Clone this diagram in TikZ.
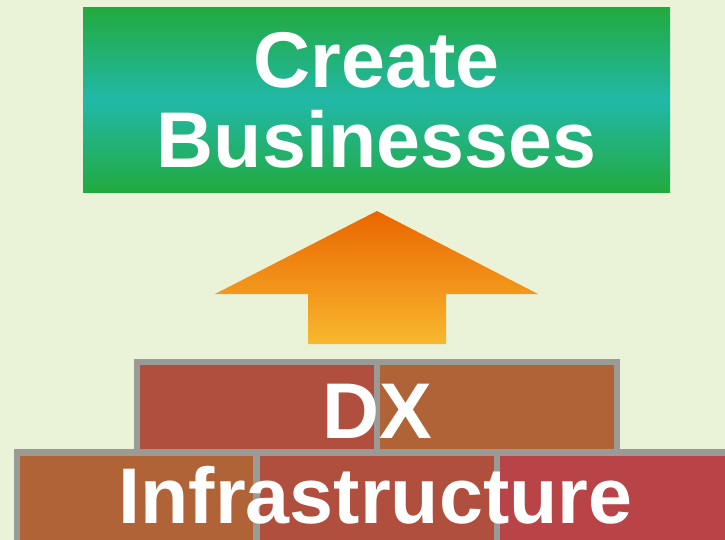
\documentclass[tikz,border=0pt]{standalone}
\usepackage{fontspec}
\setmainfont{Liberation Sans}
\usetikzlibrary{positioning}

\definecolor{paper}{RGB}{234,242,216}
\definecolor{goalgreen}{RGB}{34,170,62}
\definecolor{goalteal}{RGB}{34,184,168}
\definecolor{liftdark}{RGB}{234,102,0}
\definecolor{liftlight}{RGB}{248,184,46}
\definecolor{mortar}{RGB}{154,154,150}
\definecolor{brickred}{RGB}{177,79,62}
\definecolor{brickrust}{RGB}{177,99,56}
\definecolor{brickrose}{RGB}{185,68,72}

\begin{document}
\begin{tikzpicture}[x=1pt,y=-1pt,
    bigtext/.style={text=white,font=\bfseries\fontsize{79}{80}\selectfont,inner sep=0pt}]
    			%Background
    			\fill[paper] (0,0) rectangle (725,540);
    			\useasboundingbox (0,0) rectangle (725,540);

    			%Goal box
    			\node[bigtext,align=center,minimum width=587pt,minimum height=185pt,
    			  top color=goalgreen,bottom color=goalgreen,middle color=goalteal] (goal) at (376.5,100) {Create\\Businesses};

    			%Up arrow
    			\shade[top color=liftdark,bottom color=liftlight]
    			  (377,211) -- (538,294) -- (446,294) -- (446,344) -- (308,344) -- (308,294) -- (215,294) -- cycle;

    			%Mortar
    			\fill[mortar] (134,359) rectangle (620,456);
    			\fill[mortar] (14,449) rectangle (725,540);

    			%Bricks
    			\foreach \a/\b/\c in {140/374/brickred, 380/614/brickrust}
      			\fill[\c] (\a,365) rectangle (\b,449);
    			\foreach \a/\b/\c in {20/253/brickrust, 260/494/brickred, 500/725/brickrose}
      			\fill[\c] (\a,456) rectangle (\b,540);

     		\node[bigtext,anchor=base] (dx) at (377,438) {DX};
     		\node[bigtext,anchor=base] (infra) at (375.5,523) {Infrastructure};
  		\end{tikzpicture}
\end{document}
